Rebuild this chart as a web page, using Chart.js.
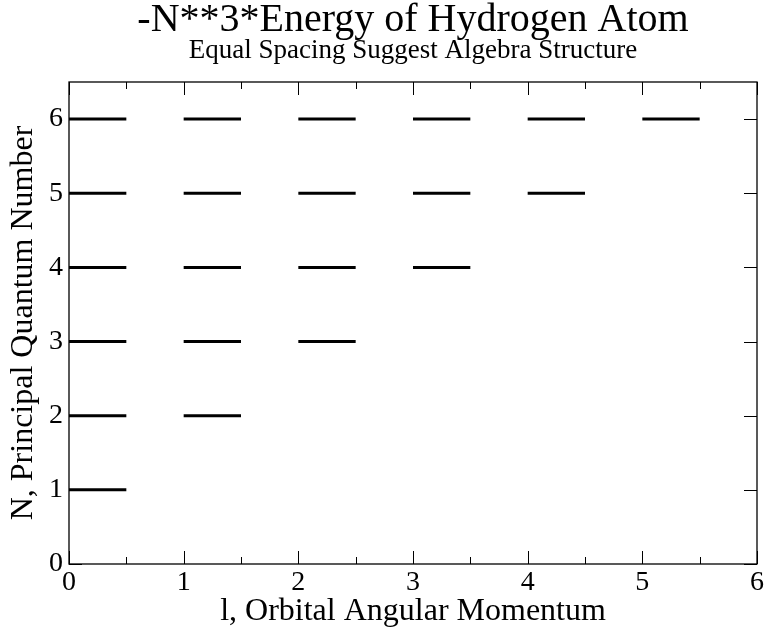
<!DOCTYPE html>
<html>
<head>
<meta charset="utf-8">
<script src="https://cdn.jsdelivr.net/npm/chart.js@4.4.1/dist/chart.umd.min.js"></script>
<style>
  html, body { margin: 0; padding: 0; background: #ffffff; }
  #wrap { width: 766px; height: 634px; }
</style>
</head>
<body>
<div id="wrap"><canvas id="c" width="766" height="634"></canvas></div>
<script>
// ---- data ----
const principalN = [1, 2, 3, 4, 5, 6];
const orbitalL = [
  [0],
  [0, 1],
  [0, 1, 2],
  [0, 1, 2, 3],
  [0, 1, 2, 3, 4],
  [0, 1, 2, 3, 4, 5]
];
const levelLength = 0.5;            // each level drawn from l to l+0.5
const xTickValues = [0, 1, 2, 3, 4, 5, 6];
const yTickValues = [0, 1, 2, 3, 4, 5, 6];
const titleText = '-N**3*Energy of Hydrogen Atom';
const subtitleText = 'Equal Spacing Suggest Algebra Structure';
const xTitle = 'l, Orbital Angular Momentum';
const yTitle = 'N, Principal Quantum Number';

// build segments separated by gaps
const points = [];
principalN.forEach((n, i) => {
  orbitalL[i].forEach(l => {
    points.push({x: l, y: n});
    points.push({x: l + levelLength, y: n});
    points.push({x: l + levelLength, y: null});
  });
});

const FONT = "'Liberation Serif', 'Times New Roman', serif";

const frameAndTicks = {
  id: 'frameAndTicks',
  afterDatasetsDraw(chart) {
    const {ctx, chartArea: a, scales: {x, y}} = chart;
    ctx.save();
    ctx.strokeStyle = '#000';
    ctx.lineWidth = 1.3;
    ctx.strokeRect(a.left, a.top, a.right - a.left, a.bottom - a.top);
    ctx.lineWidth = 1;
    ctx.beginPath();
    for (let v = x.min; v <= x.max + 1e-9; v += 0.5) {
      const px = Math.round(x.getPixelForValue(v)) + 0.5;
      const len = Math.abs(v - Math.round(v)) < 1e-9 ? 13 : 7;
      ctx.moveTo(px, a.bottom); ctx.lineTo(px, a.bottom - len);
      ctx.moveTo(px, a.top); ctx.lineTo(px, a.top + len);
    }
    yTickValues.forEach(v => {
      const py = Math.round(y.getPixelForValue(v)) + 0.5;
      ctx.moveTo(a.left, py); ctx.lineTo(a.left + 13, py);
      ctx.moveTo(a.right, py); ctx.lineTo(a.right - 13, py);
    });
    ctx.stroke();
    ctx.restore();
  }
};

new Chart(document.getElementById('c'), {
  type: 'line',
  data: {
    datasets: [{
      data: points,
      borderColor: '#000',
      borderWidth: 3,
      borderCapStyle: 'butt',
      pointRadius: 0,
      spanGaps: false,
      tension: 0
    }]
  },
  options: {
    responsive: false,
    animation: false,
    layout: { padding: { left: 0, right: 8, top: 0, bottom: 0 } },
    plugins: {
      legend: { display: false },
      tooltip: { enabled: false },
      title: {
        display: true, text: titleText, color: '#000', fullSize: false,
        font: { family: FONT, size: 40, weight: 'normal', lineHeight: 0.8 },
        padding: { top: 4, bottom: 1 }
      },
      subtitle: {
        display: true, text: subtitleText, color: '#000', fullSize: false,
        font: { family: FONT, size: 27, weight: 'normal', lineHeight: 1.0 },
        padding: { top: 0, bottom: 18 }
      }
    },
    scales: {
      x: {
        type: 'linear', min: 0, max: 6,
        grid: { display: false, drawTicks: false },
        border: { display: false },
        afterBuildTicks(s) { s.ticks = xTickValues.map(v => ({value: v})); },
        afterFit(s) { s.height = 70; },
        ticks: { color: '#000', padding: 2, maxRotation: 0,
          font: { family: FONT, size: 28 } },
        title: { display: true, text: xTitle, color: '#000',
          padding: { top: 0, bottom: 3 },
          font: { family: FONT, size: 32 } }
      },
      y: {
        type: 'linear', min: 0, max: 6.5,
        grid: { display: false, drawTicks: false },
        border: { display: false },
        afterBuildTicks(s) { s.ticks = yTickValues.map(v => ({value: v})); },
        afterFit(s) { s.width = 69; },
        ticks: { color: '#000', padding: 6,
          font: { family: FONT, size: 28 } },
        title: { display: true, text: yTitle, color: '#000',
          padding: { top: 4, bottom: 0 },
          font: { family: FONT, size: 32 } }
      }
    }
  },
  plugins: [frameAndTicks]
});
</script>
</body>
</html>
